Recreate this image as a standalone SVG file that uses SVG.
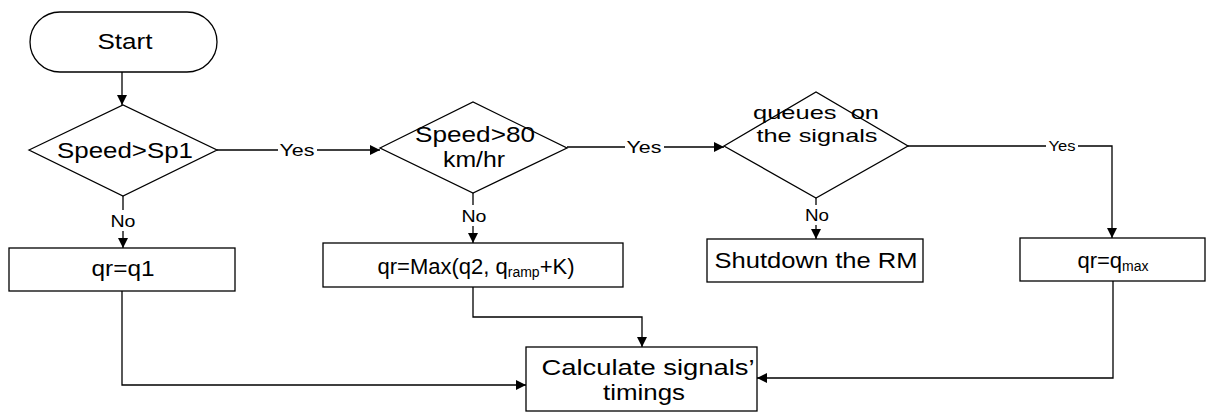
<svg xmlns="http://www.w3.org/2000/svg" width="1209" height="413" viewBox="0 0 1209 413">
<defs>
<style>
.s{fill:#fff;stroke:#000;stroke-width:1.3}
.c{fill:none;stroke:#000;stroke-width:1.3}
.t{font-family:"Liberation Sans",Arial,sans-serif;font-size:22px;fill:#000;text-anchor:middle}
.l{font-family:"Liberation Sans",Arial,sans-serif;font-size:17px;fill:#000;text-anchor:middle}
.sub{font-size:14px}
</style>
<marker id="a" viewBox="0 0 10 10" refX="10" refY="5" markerWidth="10" markerHeight="10" markerUnits="userSpaceOnUse" orient="auto">
<path d="M0,0 L10,5 L0,10 z" fill="#000"/>
</marker>
</defs>
<rect width="1209" height="413" fill="#fff"/>
<g id="connectors">
<path class="c" d="M122,72 V105" marker-end="url(#a)"/>
<path class="c" d="M217,150 H380" marker-end="url(#a)"/>
<path class="c" d="M567,147 H724" marker-end="url(#a)"/>
<path class="c" d="M908,146 H1112 V238" marker-end="url(#a)"/>
<path class="c" d="M123,196 V248" marker-end="url(#a)"/>
<path class="c" d="M473,193 V243" marker-end="url(#a)"/>
<path class="c" d="M816,198 V239" marker-end="url(#a)"/>
<path class="c" d="M122,291 V385 H526" marker-end="url(#a)"/>
<path class="c" d="M473,287 V317 H642 V347" marker-end="url(#a)"/>
<path class="c" d="M1113,281 V378 H757" marker-end="url(#a)"/>
<rect x="278" y="140" width="39" height="20" fill="#fff"/>
<text class="l" x="297" y="156" textLength="35" lengthAdjust="spacingAndGlyphs">Yes</text>
<rect x="625" y="137" width="39" height="20" fill="#fff"/>
<text class="l" x="644" y="153" textLength="35" lengthAdjust="spacingAndGlyphs">Yes</text>
<rect x="1046" y="137" width="32" height="18" fill="#fff"/>
<text class="l" x="1062" y="151" style="font-size:15px" textLength="27" lengthAdjust="spacingAndGlyphs">Yes</text>
<rect x="108" y="210" width="30" height="21" fill="#fff"/>
<text class="l" x="123" y="227" textLength="25" lengthAdjust="spacingAndGlyphs">No</text>
<rect x="460" y="205" width="28" height="21" fill="#fff"/>
<text class="l" x="474" y="222" textLength="25" lengthAdjust="spacingAndGlyphs">No</text>
<rect x="803" y="205" width="28" height="20" fill="#fff"/>
<text class="l" x="817" y="221" textLength="24" lengthAdjust="spacingAndGlyphs">No</text>
</g>
<g id="start">
<rect class="s" x="30" y="12" width="187" height="60" rx="30" ry="30"/>
<text class="t" x="125" y="49" textLength="55" lengthAdjust="spacingAndGlyphs">Start</text>
</g>
<g id="d1">
<polygon class="s" points="29,150 123,105 217,150 123,196"/>
<text class="t" x="125" y="158" textLength="136" lengthAdjust="spacingAndGlyphs">Speed&gt;Sp1</text>
</g>
<g id="d2">
<polygon class="s" points="380,148 473,102 567,148 473,193"/>
<text class="t" x="475" y="142" textLength="120" lengthAdjust="spacingAndGlyphs">Speed&gt;80</text>
<text class="t" x="474" y="167" textLength="62" lengthAdjust="spacingAndGlyphs">km/hr</text>
</g>
<g id="d3">
<polygon class="s" points="724,146 816,92 908,146 816,198"/>
<text class="t" x="816" y="119" style="font-size:19px" textLength="126" lengthAdjust="spacingAndGlyphs" xml:space="preserve">queues  on</text>
<text class="t" x="817" y="142" style="font-size:19px" textLength="121" lengthAdjust="spacingAndGlyphs">the signals</text>
</g>
<g id="q1">
<rect class="s" x="9" y="248" width="226" height="43"/>
<text class="t" x="123" y="276" textLength="63" lengthAdjust="spacingAndGlyphs">qr=q1</text>
</g>
<g id="qmaxfn">
<rect class="s" x="323" y="243" width="300" height="44"/>
<text class="t" x="476" y="274">qr=Max(q2, q<tspan class="sub" dy="3">ramp</tspan><tspan dy="-3">+K)</tspan></text>
</g>
<g id="shutdown">
<rect class="s" x="707" y="239" width="216" height="43"/>
<text class="t" x="816" y="268" textLength="203" lengthAdjust="spacingAndGlyphs">Shutdown the RM</text>
</g>
<g id="qmax">
<rect class="s" x="1020" y="238" width="185" height="43"/>
<text class="t" x="1113" y="268">qr=q<tspan class="sub" dy="3">max</tspan></text>
</g>
<g id="calc">
<rect class="s" x="526" y="347" width="231" height="64"/>
<text class="t" x="648" y="375" textLength="213" lengthAdjust="spacingAndGlyphs">Calculate signals’</text>
<text class="t" x="644" y="400" textLength="82" lengthAdjust="spacingAndGlyphs">timings</text>
</g>
</svg>
